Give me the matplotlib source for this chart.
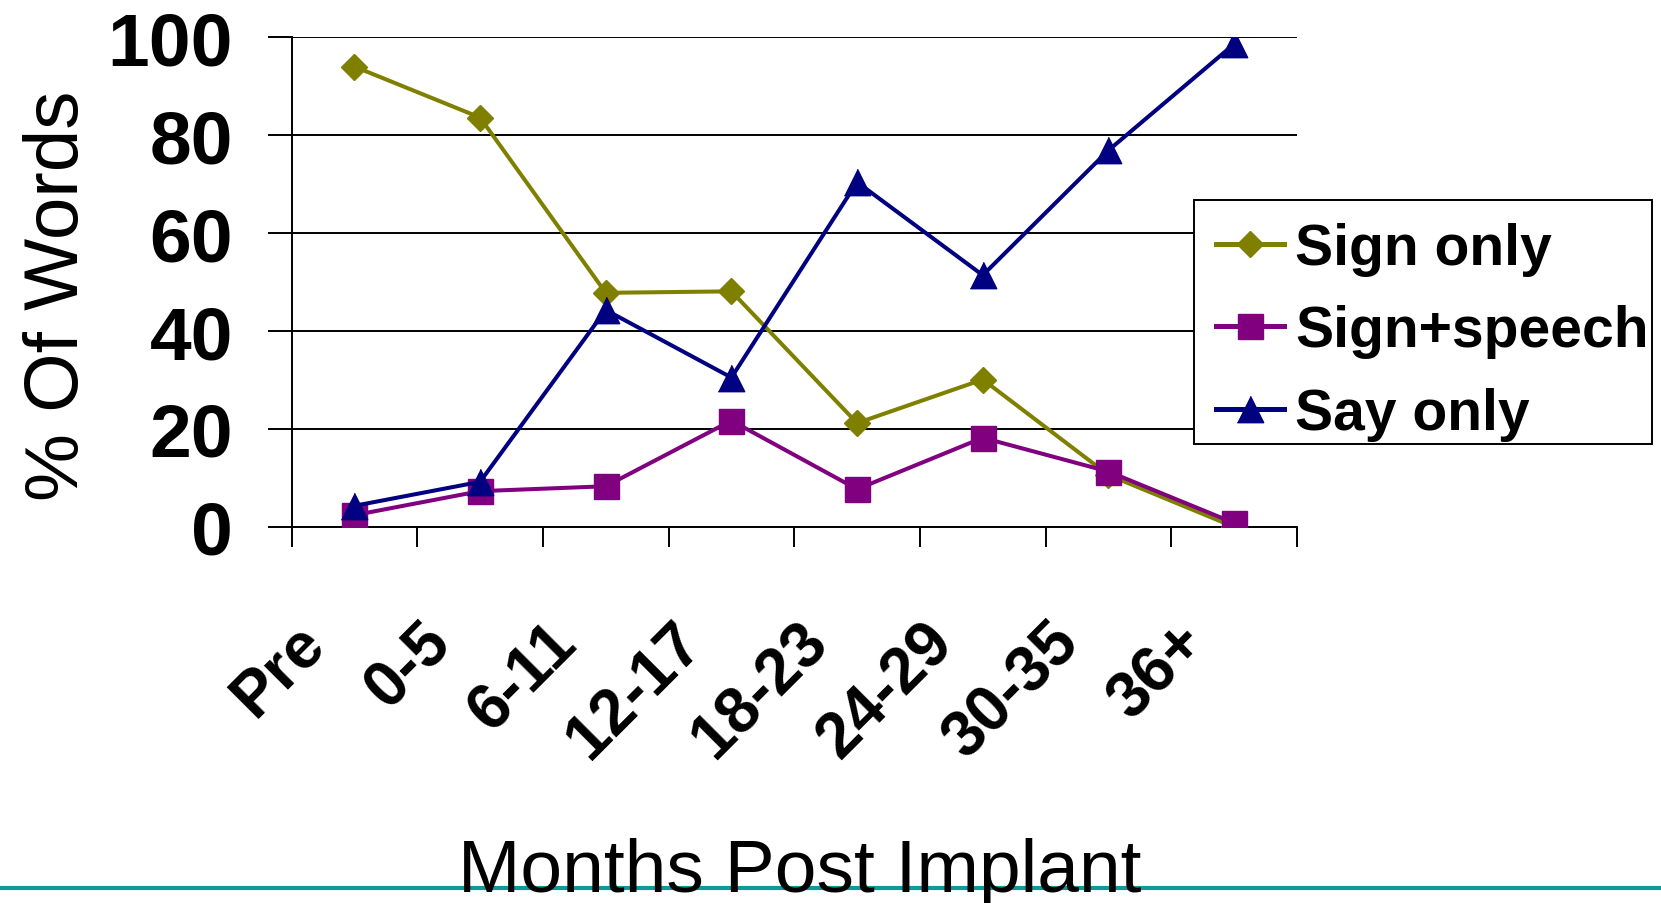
import matplotlib.pyplot as plt
import matplotlib.transforms as mtransforms
from matplotlib.lines import Line2D
from matplotlib.patches import Rectangle

months = ['Pre', '0-5', '6-11', '12-17', '18-23', '24-29', '30-35', '36+']
sign_only = [94.0, 83.6, 47.8, 48.1, 21.2, 30.1, 10.6, 0.0]
sign_speech = [2.4, 7.3, 8.3, 21.7, 7.7, 18.2, 11.3, 0.8]
say_only = [4.3, 9.2, 44.3, 30.5, 70.4, 51.4, 76.9, 98.6]

plt.rcParams['font.family'] = ['Liberation Sans', 'DejaVu Sans']

W, H = 1661, 904
fig = plt.figure(figsize=(W / 100, H / 100), dpi=100)
left, right, top, bottom = 291.5, 1297, 38.2, 527.9
ax = fig.add_axes([left / W, 1 - bottom / H, (right - left) / W, (bottom - top) / H])
ax.set_facecolor('none')

x = [i + 0.5 for i in range(len(months))]
tri = [(-1, -1), (1, -1), (0, 1)]
ax.plot(x, sign_only, color='#808000', lw=2.9, marker='D', ms=13, label='Sign only', zorder=3)
ax.plot(x, sign_speech, color='#800080', lw=2.9, marker='s', ms=18, label='Sign+speech', zorder=4)
ax.plot(x, say_only, color='#000080', lw=2.9, marker=tri, ms=19, label='Say only', zorder=5)

ax.set_xlim(0, len(months))
ax.set_ylim(0, 100)
ax.set_yticks([0, 20, 40, 60, 80, 100])
ax.grid(axis='y', color='black', lw=1.4)
ax.set_axisbelow(True)
for s in ['top', 'right']:
    ax.spines[s].set_visible(False)
ax.spines['left'].set_linewidth(1.4)
ax.spines['bottom'].set_linewidth(1.4)

ax.tick_params(axis='y', direction='out', length=17.6, width=1.4, pad=24.5,
               labelsize=54)
for lab in ax.get_yticklabels():
    lab.set_fontweight('bold')

# category boundaries get tick marks, centers get the labels
ax.set_xticks(range(len(months) + 1))
ax.set_xticklabels([])
ax.tick_params(axis='x', which='major', direction='out', length=14.5, width=1.4)
ax.set_xticks(x, minor=True)
ax.set_xticklabels(months, minor=True, rotation=45, ha='right', va='center',
                   rotation_mode='anchor', fontsize=46, fontweight='bold')
ax.tick_params(axis='x', which='minor', length=0, pad=76)
shift = mtransforms.ScaledTranslation(-0.39, 0, fig.dpi_scale_trans)
for lab in ax.get_xticklabels(minor=True):
    lab.set_transform(lab.get_transform() + shift)

ax.set_ylabel('% Of Words', fontsize=55)
ax.yaxis.set_label_coords(-0.196, 0.4736)
ax.set_xlabel('Months Post Implant', fontsize=54, va='baseline')
ax.xaxis.set_label_coords(0.5057, -0.7435)

leg = fig.legend(loc='upper left', bbox_to_anchor=(1194 / W, 1 - 201 / H),
                 prop={'weight': 'bold', 'size': 41},
                 numpoints=1, handlelength=1.2, handletextpad=0.2,
                 borderpad=0.38, labelspacing=0.5, borderaxespad=0,
                 frameon=False)
for ln in leg.get_lines():
    ln.set_linewidth(3.6)
# legend box as drawn in the original
fig.add_artist(Rectangle((1194 / W, 1 - 445 / H), (1652 - 1194) / W, (445 - 201) / H,
                         transform=fig.transFigure, facecolor='white',
                         edgecolor='black', lw=1.4, zorder=4))
leg.set_zorder(5)

fig.add_artist(Line2D([0, 1], [1 - 888.5 / H, 1 - 888.5 / H], transform=fig.transFigure,
                      color='#109999', lw=3, zorder=-1))

fig.savefig('out.png', dpi=100)
